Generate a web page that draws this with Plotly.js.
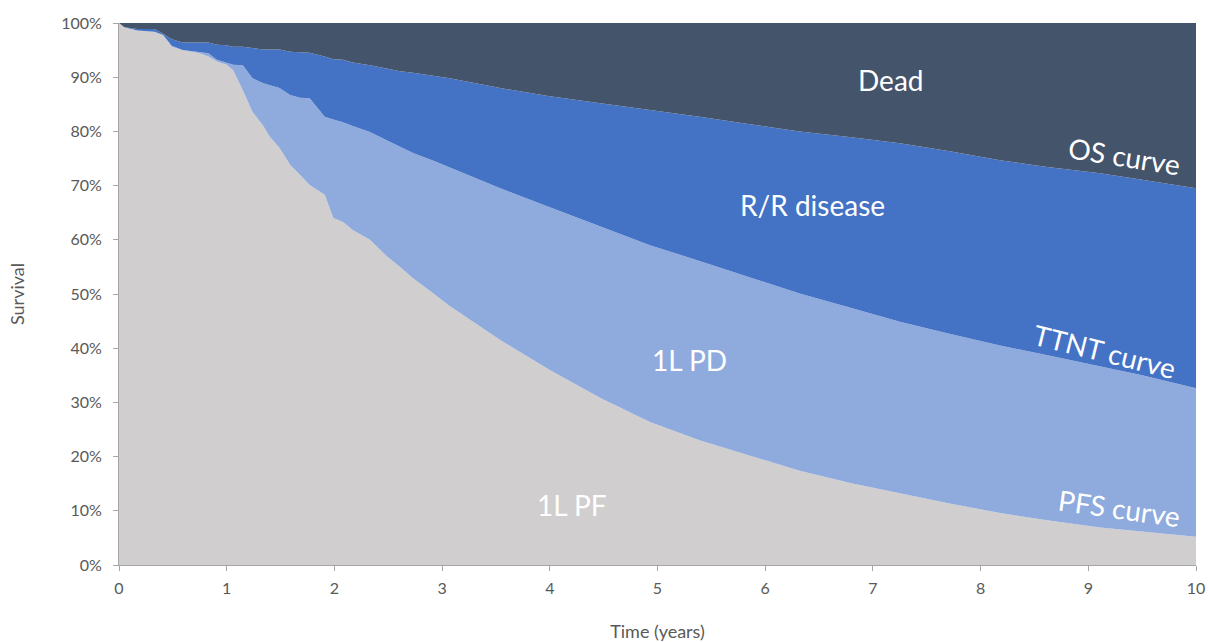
<!DOCTYPE html>
<html>
<head>
<meta charset="utf-8">
<script src="https://cdn.plot.ly/plotly-3.0.1.min.js"></script>
<style>
html,body{margin:0;padding:0;background:#fff;}
#chart{width:1208px;height:642px;}
</style>
</head>
<body>
<div id="chart"></div>
<script>
// Time in years
const years = [0, 0.05, 0.17, 0.33, 0.41, 0.49, 0.59, 0.69, 0.75, 0.83, 0.91, 1.0, 1.06, 1.15, 1.24, 1.34, 1.40, 1.49, 1.59, 1.68, 1.77, 1.91, 1.99, 2.08, 2.17, 2.33, 2.49, 2.61, 2.73, 2.92, 3.07, 3.54, 4.0, 4.47, 4.93, 5.39, 5.86, 6.32, 6.8, 7.25, 7.7, 8.18, 8.6, 9.11, 9.5, 10];
// Overall survival (%)
const osCurve = [100, 99.2, 98.9, 98.9, 98.0, 97.0, 96.4, 96.4, 96.4, 96.4, 96.0, 95.9, 95.6, 95.6, 95.4, 95.1, 95.1, 95.1, 94.7, 94.6, 94.5, 93.8, 93.3, 93.2, 92.7, 92.2, 91.6, 91.1, 90.8, 90.3, 89.8, 88.0, 86.5, 85.2, 84.0, 82.7, 81.3, 80.0, 78.9, 77.8, 76.4, 74.7, 73.5, 72.3, 71.1, 69.5];
// Time to next treatment (%)
const ttntCurve = [100, 99.2, 98.6, 98.4, 97.8, 95.8, 95.0, 94.8, 94.6, 94.4, 93.2, 92.6, 92.3, 92.2, 89.8, 88.9, 88.5, 88.0, 86.7, 86.2, 86.1, 82.7, 82.2, 81.7, 81.0, 79.9, 78.3, 77.1, 76.0, 74.6, 73.4, 69.5, 66.0, 62.4, 59.0, 56.1, 53.1, 50.1, 47.4, 44.9, 42.7, 40.5, 38.8, 36.6, 35.0, 32.6];
// Progression-free survival (%)
const pfsCurve = [100, 99.2, 98.6, 98.4, 97.8, 95.6, 95.0, 94.7, 94.4, 93.8, 92.9, 92.3, 91.3, 87.6, 83.6, 81.0, 79.0, 77.0, 73.8, 72.0, 70.1, 68.3, 64.0, 63.3, 61.8, 60.0, 56.9, 55.0, 52.9, 50.1, 47.8, 41.5, 36.0, 30.8, 26.4, 23.0, 20.1, 17.4, 15.1, 13.2, 11.4, 9.6, 8.3, 6.9, 6.1, 5.2];
const fullCurve = years.map(() => 100);

const stateLabels = ['1L PF', '1L PD', 'R/R disease', 'Dead'];
const curveLabels = ['PFS curve', 'TTNT curve', 'OS curve'];
const xTicks = [0,1,2,3,4,5,6,7,8,9,10];
const yTicks = [0,10,20,30,40,50,60,70,80,90,100];

const colors = ['#D0CECE', '#8FAADC', '#4472C4', '#44546A'];
const series = [pfsCurve, ttntCurve, osCurve, fullCurve];

const traces = series.map((ys, i) => ({
  x: years, y: ys, type: 'scatter', mode: 'lines',
  name: stateLabels[i],
  line: {width: 0, color: colors[i]},
  fill: i === 0 ? 'tozeroy' : 'tonexty',
  fillcolor: colors[i],
  hoverinfo: 'skip'
}));

const white = {family: 'Lato, "Open Sans", sans-serif', color: '#ffffff'};
const annotations = [
  {x: 7.16, y: 89.5, text: stateLabels[3], size: 28, angle: 0},
  {x: 6.44, y: 66.4, text: stateLabels[2], size: 28, angle: 0},
  {x: 5.30, y: 37.8, text: stateLabels[1], size: 28, angle: 0},
  {x: 4.21, y: 11.1, text: stateLabels[0], size: 28, angle: 0},
  {x: 9.34, y: 75.5, text: curveLabels[2], size: 28, angle: 9},
  {x: 9.15, y: 39.4, text: curveLabels[1], size: 28, angle: 14},
  {x: 9.29, y: 10.5, text: curveLabels[0], size: 28, angle: 8}
].map(a => ({
  x: a.x, y: a.y, xref: 'x', yref: 'y', text: a.text, showarrow: false,
  textangle: a.angle, font: Object.assign({size: a.size}, white),
  xanchor: 'center', yanchor: 'middle'
}));

const layout = {
  width: 1208, height: 642,
  margin: {l: 119, r: 12, t: 23, b: 77},
  paper_bgcolor: '#ffffff', plot_bgcolor: '#ffffff',
  showlegend: false,
  font: {family: 'Lato, "Open Sans", sans-serif', color: '#595959', size: 16},
  xaxis: {
    range: [0, 10], tickvals: xTicks, ticktext: xTicks.map(String),
    showgrid: false, zeroline: false, showline: true, linecolor: '#A6A6A6', linewidth: 1,
    ticks: 'outside', ticklen: 5, tickcolor: '#A6A6A6', ticklabelstandoff: 4,
    tickfont: {size: 16, color: '#595959'},
    title: {text: 'Time (years)', font: {size: 18, color: '#595959'}, standoff: 30}
  },
  yaxis: {
    range: [0, 100], tickvals: yTicks, ticktext: yTicks.map(v => v + '%'),
    showgrid: false, zeroline: false, showline: true, linecolor: '#A6A6A6', linewidth: 1,
    ticks: 'outside', ticklen: 5, tickcolor: '#A6A6A6', ticklabelstandoff: 8,
    tickfont: {size: 16, color: '#595959'},
    title: {text: 'Survival', font: {size: 18, color: '#595959'}, standoff: 31}
  },
  annotations: annotations
};

Plotly.newPlot('chart', traces, layout, {displayModeBar: false, staticPlot: true});
</script>
</body>
</html>
